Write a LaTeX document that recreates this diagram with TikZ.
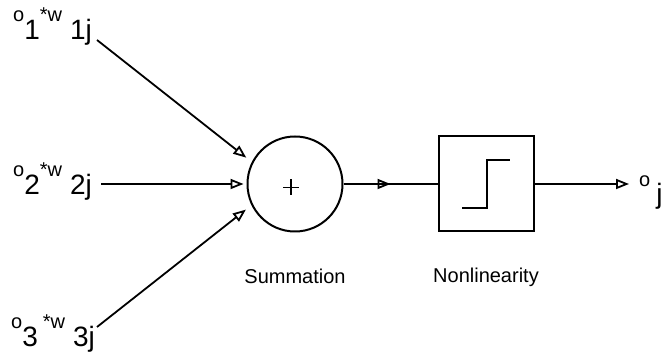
\documentclass[tikz,border=0pt]{standalone}
\usepackage{fontspec}
\setmainfont{Liberation Sans}
\usetikzlibrary{positioning,arrows.meta,decorations.markings}

\newcommand{\opsize}{\fontsize{20}{24}\selectfont}
\newcommand{\idxsize}{\fontsize{28}{32}\selectfont}
% weighted input: raised o and w, index set large on the baseline
\newcommand{\wterm}[2][0pt]{{\opsize\raisebox{18pt}{o}}{\idxsize #2}\hspace{#1}%
	{\opsize\raisebox{18pt}{*w}}\hspace{8pt}{\idxsize #2j}}

\begin{document}
\begin{tikzpicture}[x=1pt,y=1pt,
		every node/.style = {font=\opsize},
		unit/.style = {draw, line width=2pt, inner sep=0pt},
		link/.style = {line width=1.8pt, -{Triangle[open,length=13pt,width=10pt]}},
		caption/.style = {inner sep=0pt}]
		\useasboundingbox (0,0) rectangle (665,361);

		\node[unit, circle, minimum size=95pt] (sum) at (295,177) {};
		\node[unit, minimum size=95pt] (nl) at (486,177) {};
		\node[caption, below=36pt of sum] (sumlab) {Summation};
		\node[caption, below=35pt of nl] (nllab) {Nonlinearity};

		\node[anchor=base west, inner sep=0pt] (in1) at (13,321) {\wterm{1}};
		\node[anchor=base west, inner sep=0pt] (in2) at (13,166) {\wterm{2}};
		\node[anchor=base west, inner sep=0pt] (in3) at (11,14) {\wterm[5pt]{3}};
		\node[anchor=base west, inner sep=0pt] (out) at (639,174) {o\hspace{6pt}\raisebox{-17pt}{\idxsize j}};

		\coordinate (s1) at (97,321);
		\coordinate (s2) at (101,177);
		\coordinate (s3) at (97,34);
		\coordinate (tip) at (629,177);

		% plus sign and step curve
		\draw[line width=1.1pt] (sum.center) ++(-12,-3.5) -- ++(16,0);
		\draw[line width=1.1pt] (sum.center) ++(-4,4.5) -- ++(0,-16);
		\draw[line width=2pt] (nl.center) ++(-24,-24) -- ++(25,0) -- ++(0,48) -- ++(23,0);

		\draw[link, shorten >=7pt] (s1) -- (sum.153);
		\draw[link, shorten >=3pt] (s2) -- (sum.west);
		\draw[link, shorten >=7pt] (s3) -- (sum.206);
		\draw[line width=1.8pt, postaction={decorate}, decoration={markings,
			mark=at position 0.5 with {\arrow{Triangle[open,length=13pt,width=10pt]}}}] (sum) -- (nl);
		\draw[link] (nl) -- (tip);
	\end{tikzpicture}
\end{document}
